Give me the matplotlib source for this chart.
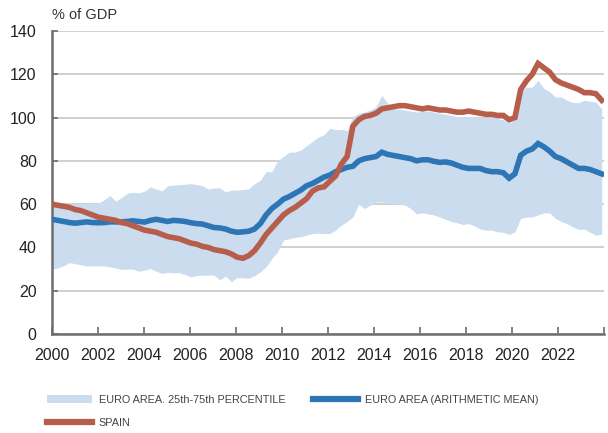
import numpy as np
import matplotlib
matplotlib.use("Agg")
import matplotlib.pyplot as plt
from matplotlib.patches import Patch
from matplotlib.lines import Line2D

# Quarterly values, 2000Q1 - 2023Q4
spain = [60, 59.5, 59, 58.5, 57.5, 57, 56, 55, 54, 53.5, 53, 52.5,
         51.5, 51, 50, 49, 48, 47.5, 47, 46, 45, 44.5, 44, 43,
         42, 41.5, 40.5, 40, 39, 38.5, 38, 37, 35.5, 35, 36.2, 38.5,
         42, 46, 49, 52, 55, 57, 58.5, 60.5, 62.5, 66, 67.5, 68,
         70.5, 73, 78.5, 82, 96, 99, 100.5, 101, 102, 104, 104.5, 105,
         105.5, 105.5, 105, 104.5, 104, 104.5, 104, 103.5, 103.5, 103, 102.5, 102.5,
         103, 102.5, 102, 101.5, 101.5, 101, 101, 99, 100, 113, 117, 120,
         125, 123, 121, 117.5, 116, 115, 114, 113, 111.5, 111.5, 111, 108]

ea_mean = [53, 52.5, 52, 51.5, 51.2, 51.5, 51.8, 51.5, 51.4, 51.5, 51.8, 51.8,
           51.8, 52, 52.3, 52, 51.7, 52.5, 53, 52.5, 52, 52.5, 52.3, 52,
           51.4, 51, 50.8, 50, 49.2, 49, 48.5, 47.5, 47, 47.2, 47.5, 48.5,
           51, 55, 58, 60, 62.3, 63.5, 65, 66.5, 68.5, 69.5, 71, 72.5,
           73.4, 75, 76, 77, 77.5, 80, 81, 81.5, 82, 84, 83, 82.5,
           82, 81.5, 81, 80, 80.5, 80.5, 79.8, 79.3, 79.5, 79, 78, 77,
           76.5, 76.5, 76.5, 75.5, 75, 75, 74.5, 72, 74, 82.6, 84.5, 85.5,
           88, 86.5, 84.5, 82, 81, 79.5, 78, 76.5, 76.5, 76, 75, 74]

p75 = [60.4, 60.2, 60, 60, 60, 60.2, 60.4, 60.4, 60.4, 62, 64, 61.4,
       63, 65, 65.5, 65.2, 66, 68, 67, 66.1, 68.5, 68.8, 69, 69.2,
       69.5, 69, 68.5, 67, 67.5, 67.5, 65.7, 66.5, 66.5, 66.8, 67, 69.5,
       71, 75, 75, 80, 82, 84, 84.1, 85, 87, 89, 91, 92,
       95, 94.5, 94.5, 94, 100.5, 102, 102.6, 103.5, 105, 110.3, 106.5, 104,
       104, 103.5, 103, 102.5, 103, 103, 102.5, 102, 101.5, 101, 100.5, 100.5,
       100.5, 100.5, 100, 100, 100, 99.5, 99, 97.5, 99, 112, 114, 114,
       117.2, 113.5, 112, 109.5, 109.5, 108, 107, 106.8, 108, 107.5, 107.2, 104]

p25 = [30, 30.5, 31.5, 33, 32.5, 32, 31.4, 31.5, 31.5, 31.5, 31, 30.5,
       29.8, 30, 30, 29, 29.5, 30.3, 29, 28, 28.5, 28.3, 28.3, 27.5,
       26.4, 27, 27.2, 27.2, 27.2, 25, 26.8, 24.2, 26.1, 26, 25.7, 27,
       28.7, 31, 34.9, 38, 43.4, 44, 44.6, 45, 45.7, 46.4, 46.6, 46.4,
       46.4, 48, 50.3, 52, 54.1, 60, 58, 59.5, 61, 61, 60.5, 60,
       60.3, 59.5, 58, 55.5, 56, 55.5, 55, 54.1, 53, 52, 51.4, 50.6,
       51, 50, 48.5, 48, 48, 47.2, 47, 46, 47.2, 53.4, 54, 54.1,
       55, 56, 56, 53.4, 52, 51, 49.5, 48.3, 48.5, 47, 45.7, 46.1]

dates = np.linspace(2000, 2023.9, len(spain))
year_ticks = list(range(2000, 2024, 2))
y_ticks = list(range(0, 141, 20))

band_color = "#cadcee"
blue = "#2e75b6"
red = "#b75d4b"
axis_gray = "#6d6d6d"

plt.rcParams["font.family"] = ["Liberation Sans", "DejaVu Sans"]

fig = plt.figure(figsize=(6.08, 4.33), dpi=100)
ax = fig.add_axes([52 / 608, 1 - 334 / 433, 552 / 608, 303 / 433])

ax.fill_between(dates, p25, p75, color=band_color, lw=0, zorder=1)
ax.plot(dates, ea_mean, color=blue, lw=4, zorder=3, solid_joinstyle="miter")
ax.plot(dates, spain, color=red, lw=4, zorder=4, solid_joinstyle="miter")

ax.set_xlim(2000, 2024)
ax.set_ylim(0, 140)
ax.set_yticks(y_ticks)
ax.set_xticks(year_ticks + [2024])
ax.set_xticklabels([str(y) for y in year_ticks] + [""])
ax.grid(axis="y", color="#c4c4c4", lw=1.1, zorder=0)
ax.set_axisbelow(True)

for side in ["top", "right"]:
    ax.spines[side].set_visible(False)
for side in ["left", "bottom"]:
    ax.spines[side].set_color(axis_gray)
    ax.spines[side].set_linewidth(1.8)

ax.tick_params(axis="y", direction="in", length=4, width=1.2, color=axis_gray,
               labelsize=11.5, labelcolor="#222222", pad=11)
ax.tick_params(axis="x", direction="in", length=5, width=1.2, color=axis_gray,
               labelsize=11.5, labelcolor="#222222", pad=10)

fig.text(52 / 608, 1 - 15 / 433, "% of GDP", fontsize=10.5, color="#333333",
         va="center", ha="left")

# legend
leg_font = {"family": ["Liberation Sans", "DejaVu Sans"], "size": 7.8}
leg1 = fig.legend(handles=[Patch(color=band_color, lw=0),
                           Line2D([], [], color=red, lw=4.5)],
                  labels=["EURO AREA. 25th-75th PERCENTILE", "SPAIN"],
                  loc="upper left", bbox_to_anchor=(37 / 608, 1 - 385 / 433),
                  frameon=False, prop=leg_font, handlelength=4.2, handleheight=0.8,
                  handletextpad=0.6, labelspacing=1.2, labelcolor="#444444")
leg2 = fig.legend(handles=[Line2D([], [], color=blue, lw=4.5)],
                  labels=["EURO AREA (ARITHMETIC MEAN)"],
                  loc="upper left", bbox_to_anchor=(303 / 608, 1 - 385 / 433),
                  frameon=False, prop=leg_font, handlelength=4.2, handleheight=0.8,
                  handletextpad=0.6, labelcolor="#444444")

fig.savefig("out.png", dpi=100)
